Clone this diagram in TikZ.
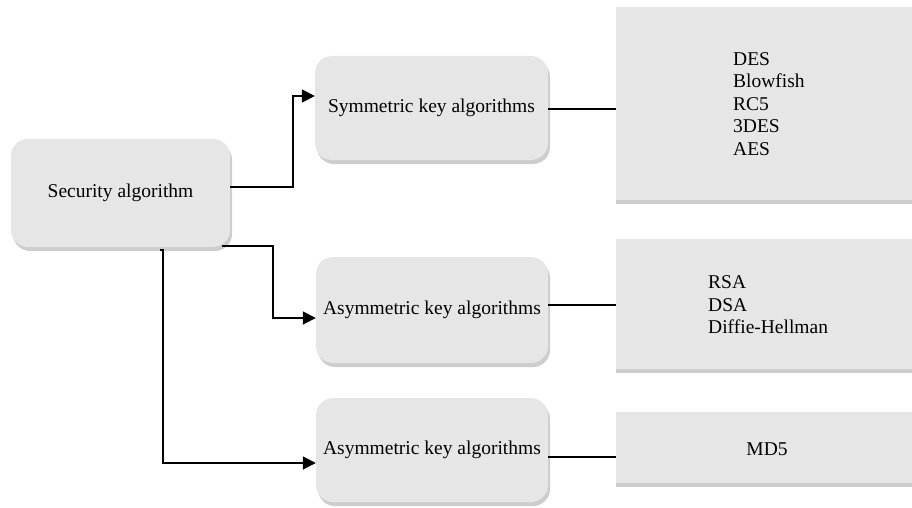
\documentclass[tikz,border=0pt]{standalone}
\usepackage{fontspec}
\setmainfont{Liberation Serif}
\usetikzlibrary{arrows.meta,shadows,positioning}
\definecolor{boxfill}{HTML}{E6E6E6}
\definecolor{boxshadow}{HTML}{CDCDCD}
\begin{document}
\begin{tikzpicture}[x=1pt,y=-1pt,
  rbox/.style={draw=none,fill=boxfill,rounded corners=17pt,inner sep=0pt,
    drop shadow={shadow xshift=2pt,shadow yshift=-4pt,fill=boxshadow,opacity=1},
    font=\fontsize{19.5}{22.5}\selectfont},
  sbox/.style={draw=none,fill=boxfill,inner sep=0pt,
    drop shadow={shadow xshift=0pt,shadow yshift=-4pt,fill=boxshadow,opacity=1}},
  listtext/.style={inner sep=0pt,align=left,font=\fontsize{19.5}{22.5}\selectfont},
  conn/.style={line width=1.8pt,black},
  arr/.style={conn,-{Triangle[length=13pt,width=13pt]}}
]
\useasboundingbox (0,0) rectangle (912,508);
% rounded boxes
\node[rbox,minimum width=219pt,minimum height=108pt] (sec) at (120.5,193) {Security algorithm};
\node[rbox,minimum width=233pt,minimum height=104pt] (sym) at (431.5,108) {Symmetric key algorithms};
\node[rbox,minimum width=232pt,minimum height=106pt] (asa) at (432,310) {Asymmetric key algorithms};
\node[rbox,minimum width=232pt,minimum height=104pt] (asb) at (432,450) {Asymmetric key algorithms};
% right boxes
\node[sbox,minimum width=296pt,minimum height=193pt] (ra) at (764,103.5) {};
\node[sbox,minimum width=296pt,minimum height=130pt] (rb) at (764,304) {};
\node[sbox,minimum width=296pt,minimum height=71pt] (rc) at (764,447.5) {};
\node[listtext,anchor=west] (rat) at (733,104) {DES\\Blowfish\\RC5\\3DES\\AES};
\node[listtext,anchor=west] (rbt) at (708,305) {RSA\\DSA\\Diffie-Hellman};
\node[listtext] (rct) at (767,449) {MD5};
% connectors
\draw[arr] (sec.east |- 0,187) -| (293,96) -- (sym.west |- 0,96);
\draw[arr] (222,246) -| (273,318) -- (asa.west |- 0,318);
\draw[arr] (160,250) -- (163,250) |- (asb.west |- 0,463);
\draw[conn] (sym.east |- 0,109) -- (ra.west |- 0,109);
\draw[conn] (asa.east |- 0,305) -- (rb.west |- 0,305);
\draw[conn] (asb.east |- 0,457) -- (rc.west |- 0,457);
\end{tikzpicture}
\end{document}
